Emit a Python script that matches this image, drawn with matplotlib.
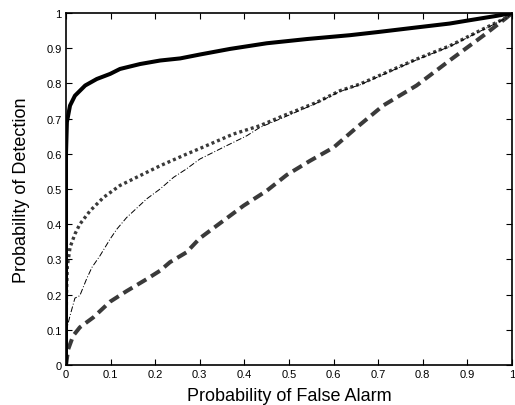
import matplotlib
matplotlib.use("Agg")
import matplotlib.pyplot as plt
from matplotlib.ticker import FuncFormatter

plt.rcParams['font.family'] = ['Liberation Sans', 'DejaVu Sans']

# Solid curve
solid_x = [0, 0.0, 0.002, 0.009, 0.02, 0.043, 0.069, 0.099, 0.121, 0.166, 0.211, 0.256,
           0.30, 0.368, 0.45, 0.54, 0.637, 0.70, 0.786, 0.86, 0.898, 0.966, 1.0]
solid_y = [0, 0.60, 0.69, 0.737, 0.765, 0.794, 0.8125, 0.827, 0.841, 0.855, 0.865, 0.871,
           0.882, 0.898, 0.914, 0.926, 0.937, 0.946, 0.959, 0.970, 0.978, 0.992, 1.0]

# Thick dotted curve
dot_x = [0, 0.001, 0.003, 0.009, 0.02, 0.031, 0.054, 0.084, 0.121, 0.166, 0.211, 0.27,
         0.30, 0.375, 0.435, 0.487, 0.562, 0.614, 0.659, 0.711, 0.786, 0.861, 0.936, 0.988, 1.0]
dot_y = [0, 0.20, 0.28, 0.334, 0.372, 0.40, 0.438, 0.476, 0.51, 0.538, 0.566, 0.599,
         0.615, 0.656, 0.68, 0.708, 0.746, 0.779, 0.798, 0.827, 0.869, 0.907, 0.955, 0.987, 1.0]

# Thin dash-dot curve
dd_x = [0, 0.0015, 0.009, 0.02, 0.031, 0.046, 0.058, 0.076, 0.099, 0.114, 0.136, 0.181,
        0.211, 0.241, 0.27, 0.30, 0.36, 0.405, 0.435, 0.48, 0.562, 0.614, 0.659, 0.711,
        0.786, 0.861, 0.936, 0.988, 1.0]
dd_y = [0, 0.102, 0.14, 0.19, 0.197, 0.244, 0.277, 0.31, 0.358, 0.386, 0.419, 0.472,
        0.50, 0.533, 0.557, 0.585, 0.623, 0.651, 0.675, 0.699, 0.744, 0.777, 0.796, 0.825,
        0.867, 0.905, 0.953, 0.986, 1.0]

# Thick dashed curve
dash_x = [0, 0.005, 0.016, 0.031, 0.061, 0.099, 0.136, 0.181, 0.211, 0.233, 0.27, 0.30,
          0.353, 0.398, 0.45, 0.495, 0.547, 0.60, 0.652, 0.711, 0.786, 0.861, 0.936, 0.988, 1.0]
dash_y = [0, 0.045, 0.083, 0.107, 0.135, 0.18, 0.21, 0.244, 0.268, 0.292, 0.32, 0.36,
          0.41, 0.4525, 0.495, 0.54, 0.58, 0.618, 0.675, 0.737, 0.794, 0.866, 0.936, 0.987, 1.0]

ticks = [0, 0.1, 0.2, 0.3, 0.4, 0.5, 0.6, 0.7, 0.8, 0.9, 1.0]

fig = plt.figure(figsize=(5.15, 4.06), dpi=100)
ax = fig.add_axes([66/515, 1 - 366/406, 446/515, 352/406])

ax.plot(dash_x, dash_y, color='#3a3a3a', lw=2.9, dashes=(2.6, 1.4), solid_capstyle='butt')
ax.plot(dot_x, dot_y, color='#3a3a3a', lw=2.4, linestyle=(0, (0.9, 0.9)))
ax.plot(dd_x, dd_y, color='black', lw=0.7, linestyle='-.', dashes=(6, 2, 1, 2))
ax.plot(solid_x, solid_y, color='black', lw=2.9, solid_joinstyle='round')

ax.set_xlim(0, 1)
ax.set_ylim(0, 1)
ax.set_xticks(ticks)
ax.set_yticks(ticks)
fmt = FuncFormatter(lambda v, p: ('%g' % round(v, 2)))
ax.xaxis.set_major_formatter(fmt)
ax.yaxis.set_major_formatter(fmt)
ax.tick_params(direction='in', length=4, width=0.8, top=True, right=True,
               labelsize=8, pad=3)
for s in ax.spines.values():
    s.set_linewidth(1.2)

ax.set_xlabel('Probability of False Alarm', fontsize=13, labelpad=6)
ax.set_ylabel('Probability of Detection', fontsize=13, labelpad=12)

fig.savefig('out.png', dpi=100)
